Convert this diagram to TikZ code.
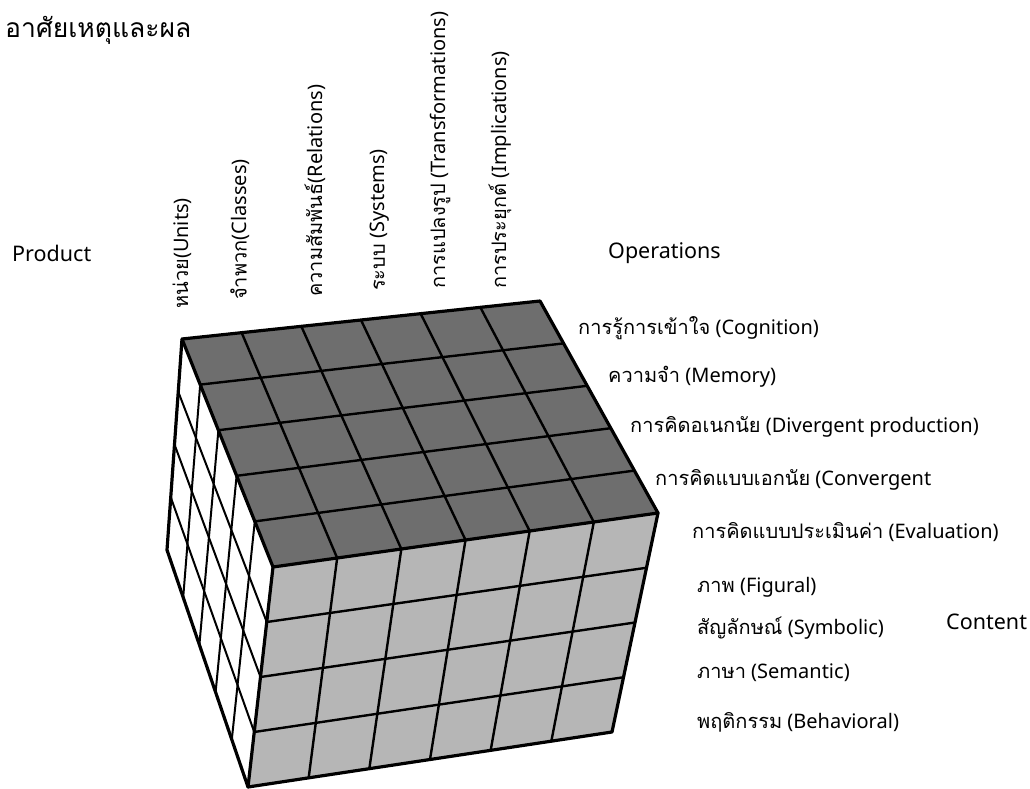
\documentclass[tikz,border=0pt]{standalone}
\usepackage{fontspec}
\setmainfont{Noto Sans}
\newfontfamily\thaifont[Script=Thai]{Loma}
\newcommand\thaitxt[1]{{\thaifont #1}}
\usetikzlibrary{calc}

\definecolor{topgray}{RGB}{110,110,110}
\definecolor{frontgray}{RGB}{182,182,182}

\tikzset{
  gridline/.style={line width=2.4pt, line cap=round},
  edge/.style={line width=3.2pt, line join=round, line cap=round},
  lbl/.style={inner sep=0pt, font=\fontsize{20}{23}\selectfont},
  axis/.style={inner sep=0pt, font=\fontsize{21.5}{24}\selectfont},
}

\begin{document}
\begin{tikzpicture}[x=1pt, y=-1pt]
  \useasboundingbox (0,0) rectangle (1030,789);

  % corners of the block
  \coordinate (A) at (182,339);  % back left, top
  \coordinate (B) at (540,301);  % back right, top
  \coordinate (C) at (658,513);  % front right, top
  \coordinate (D) at (273,567);  % front left, top
  \coordinate (E) at (248,787);  % front left, bottom
  \coordinate (F) at (612,732);  % front right, bottom
  \coordinate (G) at (167,550);  % back left, bottom

  % faces
  \fill[white] (A) -- (D) -- (E) -- (G) -- cycle;
  \fill[topgray] (A) -- (B) -- (C) -- (D) -- cycle;
  \fill[frontgray] (D) -- (C) -- (F) -- (E) -- cycle;

  % top face: 6 products x 5 operations
  \foreach \i in {1,...,5}
    \draw[gridline] ($(A)!\i/6!(B)$) -- ($(D)!\i/6!(C)$);
  \foreach \j in {1,...,4}
    \draw[gridline] ($(A)!\j/5!(D)$) -- ($(B)!\j/5!(C)$);

  % front face: 6 products x 4 contents
  \foreach \i in {1,...,5}
    \draw[gridline] ($(D)!\i/6!(C)$) -- ($(E)!\i/6!(F)$);
  \foreach \j in {1,...,3}
    \draw[gridline] ($(D)!\j/4!(E)$) -- ($(C)!\j/4!(F)$);

  % left face: 5 operations x 4 contents
  \foreach \j in {1,...,4}
    \draw[gridline, line width=2pt] ($(A)!\j/5!(D)$) -- ($(G)!\j/5!(E)$);
  \foreach \k in {1,...,3}
    \draw[gridline, line width=2pt] ($(A)!\k/4!(G)$) -- ($(D)!\k/4!(E)$);

  % outline
  \draw[edge] (A) -- (B) -- (C) -- (F) -- (E) -- (G) -- cycle;
  \draw[edge] (A) -- (D) -- (C);
  \draw[edge] (D) -- (E);

  % title
  \node[inner sep=0pt, anchor=west, font=\fontsize{26.5}{30}\selectfont] (title) at (5,30) {\thaitxt{อาศัยเหตุและผล}};

  % axis names
  \node[axis, anchor=west] (product) at (12,253) {Product};
  \node[axis, anchor=west] (operations) at (608,253) {Operations};
  \node[axis, anchor=west] (content) at (946,622) {Content};

  % products
  \node[lbl, rotate=90, anchor=west] (units) at (182,309) {\thaitxt{หน่วย}(Units)};
  \node[lbl, rotate=90, anchor=west] (classes) at (240,300) {\thaitxt{จำพวก}(Classes)};
  \node[lbl, rotate=90, anchor=west] (relations) at (315,297) {\thaitxt{ความสัมพันธ์}(Relations)};
  \node[lbl, rotate=90, anchor=west] (systems) at (380,291) {\thaitxt{ระบบ} (Systems)};
  \node[lbl, rotate=90, anchor=west] (transf) at (440,289) {\thaitxt{การแปลงรูป} (Transformations)};
  \node[lbl, rotate=90, anchor=west] (implic) at (500,289) {\thaitxt{การประยุกต์} (Implications)};

  % operations
  \node[lbl, anchor=west] (cog) at (578,328) {\thaitxt{การรู้การเข้าใจ} (Cognition)};
  \node[lbl, anchor=west] (mem) at (608,377) {\thaitxt{ความจำ} (Memory)};
  \node[lbl, anchor=west] (div) at (630,427) {\thaitxt{การคิดอเนกนัย} (Divergent production)};
  \node[lbl, anchor=west] (conv) at (655,480) {\thaitxt{การคิดแบบเอกนัย} (Convergent};
  \node[lbl, anchor=west] (eval) at (692,532) {\thaitxt{การคิดแบบประเมินค่า} (Evaluation)};

  % contents
  \node[lbl, anchor=west] (fig) at (697,587) {\thaitxt{ภาพ} (Figural)};
  \node[lbl, anchor=west] (sym) at (697,628) {\thaitxt{สัญลักษณ์} (Symbolic)};
  \node[lbl, anchor=west] (sem) at (697,673) {\thaitxt{ภาษา} (Semantic)};
  \node[lbl, anchor=west] (beh) at (697,722) {\thaitxt{พฤติกรรม} (Behavioral)};
\end{tikzpicture}
\end{document}
